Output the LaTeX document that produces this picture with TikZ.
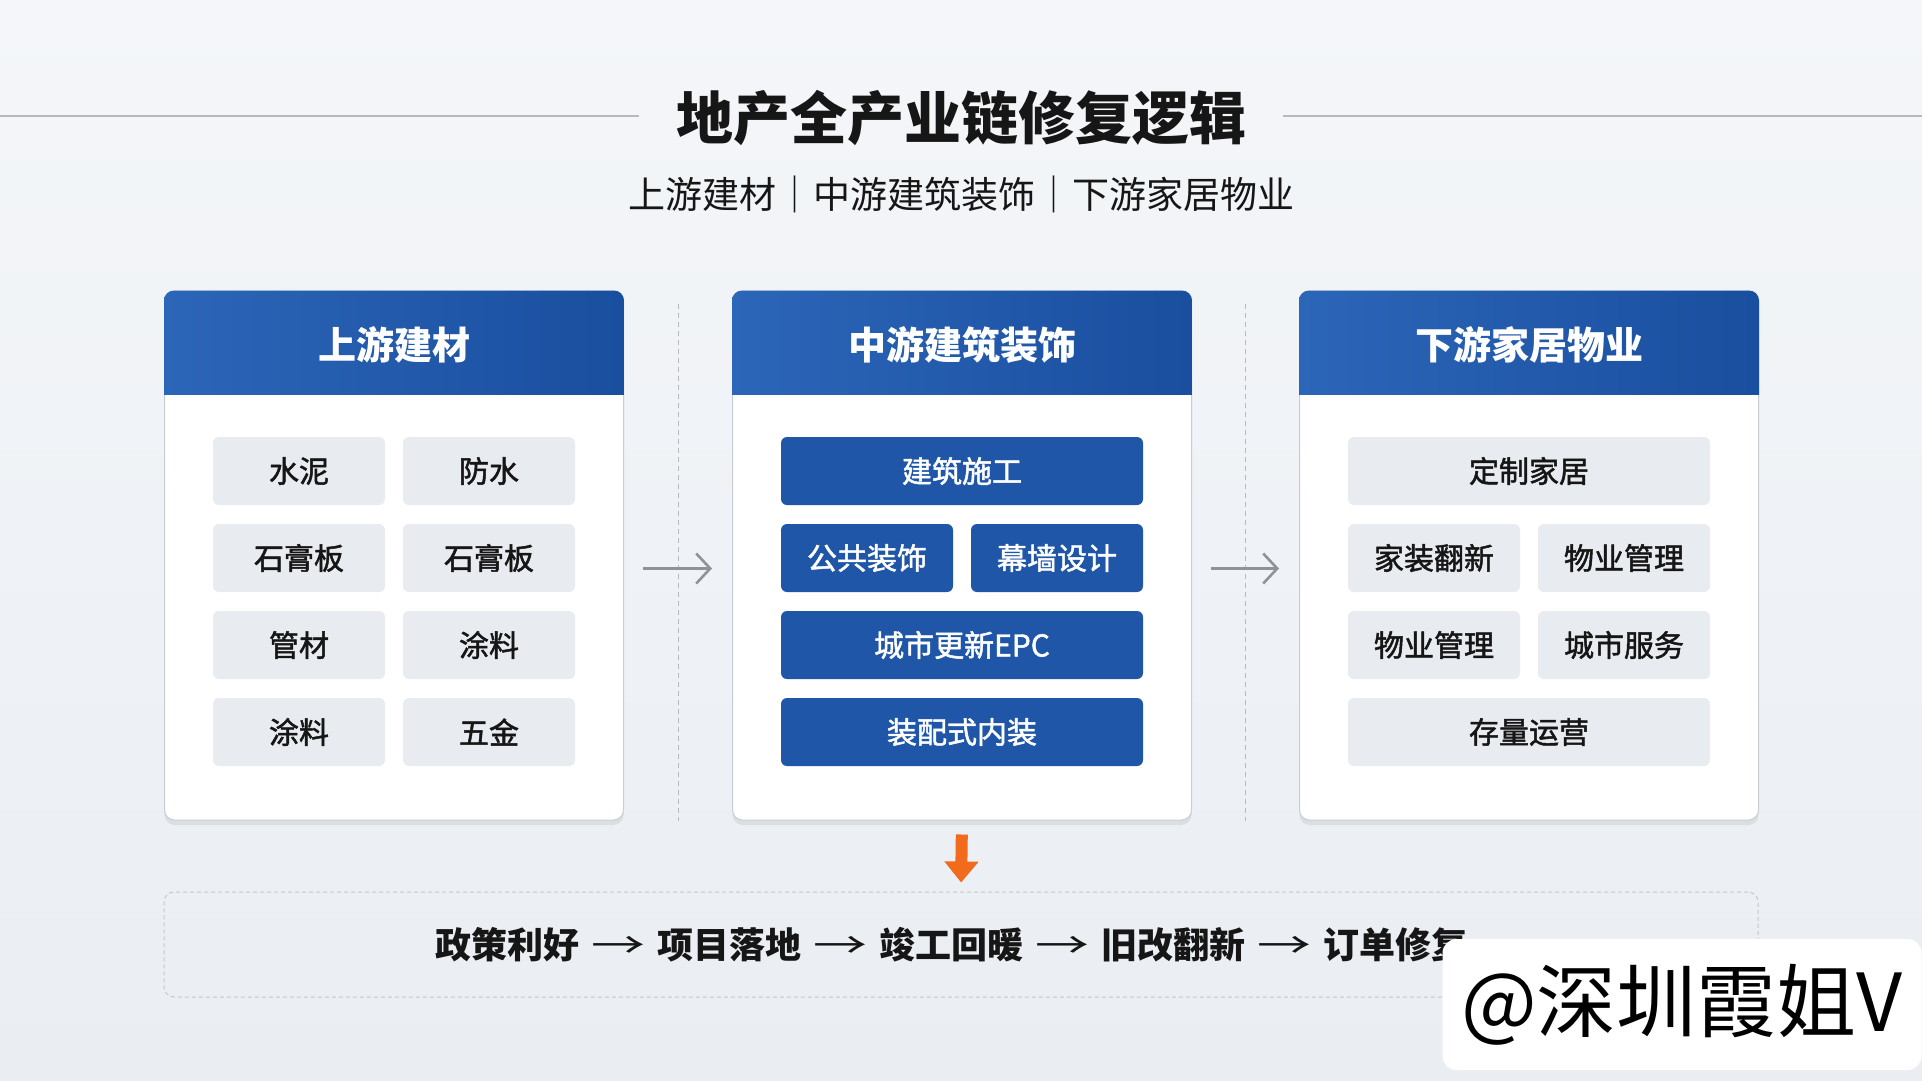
\documentclass[tikz,border=0pt]{standalone}
\usepackage{fontspec}
\setmainfont{Noto Sans CJK SC}
\newfontfamily\midfont[FakeBold=1.6]{Noto Sans CJK SC}
\usetikzlibrary{arrows.meta,positioning,calc,shadows}
\definecolor{bgtop}{HTML}{F4F6F9}
\definecolor{bgbot}{HTML}{EAEEF3}
\definecolor{hdlight}{HTML}{2C66B8}
\definecolor{hdblue}{HTML}{1A4E9F}
\definecolor{itemblue}{HTML}{1F56A7}
\definecolor{itemgray}{HTML}{E8EBF0}
\definecolor{edgegray}{HTML}{C8CDD5}
\definecolor{arrgray}{HTML}{8E939A}
\definecolor{ink}{HTML}{161616}
\definecolor{flowor}{HTML}{F26A1B}
\newcommand{\fsz}[1]{\fontsize{#1}{#1}\selectfont}
\newcommand{\flowto}{\hspace{12pt}{\mdseries\scalebox{1.5}[1]{→}}\hspace{12pt}}

\begin{document}
\begin{tikzpicture}[x=1pt,y=-1pt,>=Stealth,
  panel/.style={draw=edgegray,line width=1pt,fill=white,rounded corners=10pt,
    minimum width=459pt,minimum height=529pt,
    drop shadow={opacity=.15,shadow xshift=0pt,shadow yshift=-5pt}},
  hdr/.style={text=white,font=\fsz{38}\bfseries},
  cell/.style={rounded corners=6pt,minimum height=68pt,inner sep=0pt,font=\fsz{30}\midfont},
  gcell/.style={cell,fill=itemgray,text=ink},
  bcell/.style={cell,fill=itemblue,text=white},
  half/.style={minimum width=172pt},
  full/.style={minimum width=362pt},
  sep/.style={draw=gray!55,line width=.9pt,dash pattern=on 5pt off 4pt},
  gap/.style={-{Straight Barb[length=14pt,width=30pt]},draw=arrgray,line width=2.6pt,
    shorten <=19pt,shorten >=20pt},
  down/.style={-{Triangle[length=21pt,width=33pt]},draw=flowor,line width=12pt,
    shorten <=14pt,shorten >=9pt},
  rule/.style={draw=gray!55,line width=1.4pt},
  flowbox/.style={draw=gray!45,line width=1pt,dash pattern=on 4pt off 3pt,rounded corners=10pt,
    minimum width=1594pt,minimum height=105pt,font=\fsz{36}\bfseries,text=ink},
  wmark/.style={fill=white,rounded corners=14pt,minimum width=479pt,minimum height=131pt,
    inner sep=0pt,font=\fsz{80},text=black}]
\useasboundingbox (0,0) rectangle (1922,1080);
\shade[top color=bgtop,bottom color=bgbot] (0,0) rectangle (1922,1080);

\node[font=\fsz{57}\bfseries,text=ink,inner xsep=37pt] (title) at (961,118) {地产全产业链修复逻辑};
\coordinate (ruleL) at (0,116);
\coordinate (ruleR) at (1922,116);
\draw[rule] (ruleL) -- (ruleL -| title.west);
\draw[rule] (ruleR) -- (ruleR -| title.east);
\node[font=\fsz{37},text=ink] (sub) at (961,194) {上游建材｜中游建筑装饰｜下游家居物业};

\foreach \nm/\x/\t in {lp/394/上游建材,mp/962/中游建筑装饰,rp/1529/下游家居物业}{
  \node[panel] (\nm) at (\x,555.5) {};
  \begin{scope}
    \clip[rounded corners=10pt] (\nm.north west) rectangle (\nm.south east);
    \shade[left color=hdlight,right color=hdblue] (\nm.north west) rectangle ([yshift=-104pt]\nm.north east);
  \end{scope}
  \node[hdr] (\nm-hd) at ([yshift=-54pt]\nm.north) {\t};
}

\node[gcell,half] (l1) at (299,471) {水泥};
\node[gcell,half] (l2) at (489,471) {防水};
\node[gcell,half] (l3) at (299,558) {石膏板};
\node[gcell,half] (l4) at (489,558) {石膏板};
\node[gcell,half] (l5) at (299,645) {管材};
\node[gcell,half] (l6) at (489,645) {涂料};
\node[gcell,half] (l7) at (299,732) {涂料};
\node[gcell,half] (l8) at (489,732) {五金};

\node[bcell,full] (m1) at (962,471) {建筑施工};
\node[bcell,half] (m2) at (867,558) {公共装饰};
\node[bcell,half] (m3) at (1057,558) {幕墙设计};
\node[bcell,full] (m4) at (962,645) {城市更新EPC};
\node[bcell,full] (m5) at (962,732) {装配式内装};

\node[gcell,full] (r1) at (1529,471) {定制家居};
\node[gcell,half] (r2) at (1434,558) {家装翻新};
\node[gcell,half] (r3) at (1624,558) {物业管理};
\node[gcell,half] (r4) at (1434,645) {物业管理};
\node[gcell,half] (r5) at (1624,645) {城市服务};
\node[gcell,full] (r6) at (1529,732) {存量运营};

\draw[sep] ($(lp.north east)!.5!(mp.north west)+(0,13)$) -- ($(lp.south east)!.5!(mp.south west)$);
\draw[sep] ($(mp.north east)!.5!(rp.north west)+(0,13)$) -- ($(mp.south east)!.5!(rp.south west)$);
\draw[gap] ([yshift=-13pt]lp.east) -- ([yshift=-13pt]mp.west);
\draw[gap] ([yshift=-13pt]mp.east) -- ([yshift=-13pt]rp.west);

\node[flowbox] (flow) at (961,944.5) {政策利好\flowto 项目落地\flowto 竣工回暖\flowto 旧改翻新\flowto 订单修复\hspace*{20pt}};
\draw[down] (mp.south) -- (flow.north);

\node[wmark] (wm) at (1682,1004.5) {@深圳霞姐V};
\end{tikzpicture}
\end{document}
